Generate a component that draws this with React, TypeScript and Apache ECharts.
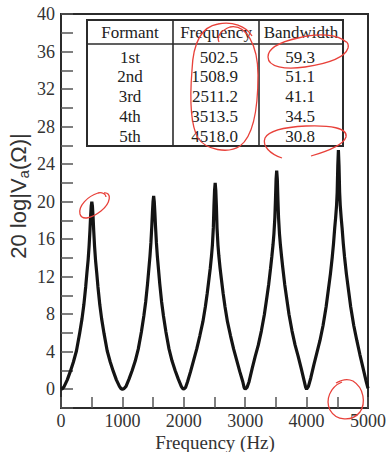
import React, { useEffect, useRef } from 'react';
import * as echarts from 'echarts';

// ---- Data ----
const formantNames = ['1st', '2nd', '3rd', '4th', '5th'];
const formantFrequencies = ['502.5', '1508.9', '2511.2', '3513.5', '4518.0'];
const formantBandwidths = ['59.3', '51.1', '41.1', '34.5', '30.8'];
const tableHeaders = ['Formant', 'Frequency', 'Bandwidth'];
const xAxisTitle = 'Frequency (Hz)';

const xTickValues = [0, 500, 1000, 1500, 2000, 2500, 3000, 3500, 4000, 4500, 5000];
const yLabelValues = [0, 4, 8, 12, 16, 20, 24, 28, 32, 36, 40];

// [frequency Hz, 20 log|Va| dB]
const lobe1: [number, number][] = [
  [0, 0], [26, 0.08], [52, 0.3], [102, 1.0], [152, 1.9], [202, 2.9], [252, 4.1], [302, 5.9], [342, 7.5],
  [372, 9.0], [402, 10.9], [422, 12.4], [442, 13.8], [457, 15.2], [472, 17.0], [482, 18.4],
  [492, 19.5], [502, 20.0], [512, 19.5], [522, 18.4], [532, 17.0], [547, 15.2], [562, 13.8],
  [582, 12.4], [602, 10.9], [632, 9.0], [662, 7.5], [702, 5.9], [752, 4.1], [802, 2.9],
  [852, 1.9], [902, 1.0], [952, 0.3], [976, 0.08],
];
const lobe2: [number, number][] = [
  [1000, 0], [1028, 0.08], [1059, 0.3], [1109, 1.1], [1159, 2.0], [1209, 3.0], [1259, 4.3], [1309, 6.1],
  [1349, 7.8], [1379, 9.3], [1409, 11.2], [1429, 12.7], [1449, 14.2], [1464, 15.6], [1479, 17.4],
  [1489, 18.8], [1499, 20.0], [1509, 20.6], [1519, 20.0], [1529, 18.8], [1539, 17.4], [1554, 15.6],
  [1569, 14.2], [1589, 12.7], [1609, 11.2], [1639, 9.3], [1669, 7.8], [1709, 6.1], [1759, 4.3],
  [1809, 3.0], [1859, 2.0], [1909, 1.1], [1959, 0.3], [1980, 0.08],
];
const lobe3: [number, number][] = [
  [2000, 0], [2030, 0.2], [2061, 0.8], [2111, 1.9], [2161, 3.1], [2211, 4.3], [2261, 5.7],
  [2311, 7.2], [2351, 8.8], [2381, 10.2], [2411, 11.8], [2431, 12.9], [2451, 14.2], [2466, 15.4],
  [2481, 17.2], [2491, 19.5], [2501, 21.2], [2511, 22.0], [2521, 21.2], [2531, 19.5], [2541, 17.2],
  [2556, 15.4], [2571, 14.2], [2591, 12.9], [2611, 11.8], [2641, 10.2], [2671, 8.8], [2711, 7.2],
  [2761, 5.7], [2811, 4.3], [2861, 3.1], [2911, 1.9], [2961, 0.8], [2982, 0.2],
];
const lobe4: [number, number][] = [
  [3000, 0], [3030, 0.2], [3063, 0.8], [3113, 2.2], [3163, 3.5], [3213, 4.7], [3263, 6.2],
  [3313, 8.0], [3353, 9.8], [3383, 11.2], [3413, 12.9], [3433, 14.1], [3453, 15.4], [3468, 16.6],
  [3483, 18.3], [3493, 20.2], [3503, 22.4], [3513, 23.3], [3523, 22.4], [3533, 20.2], [3543, 18.3],
  [3558, 16.6], [3573, 15.4], [3593, 14.1], [3613, 12.9], [3643, 11.2], [3673, 9.8], [3713, 8.0],
  [3763, 6.2], [3813, 4.7], [3863, 3.5], [3913, 2.2], [3963, 0.8], [3985, 0.2],
];
const lobe5: [number, number][] = [
  [4000, 0], [4030, 0.3], [4068, 1.2], [4118, 2.6], [4168, 3.9], [4218, 5.2], [4268, 6.8],
  [4318, 8.8], [4358, 10.8], [4388, 12.3], [4418, 14.1], [4438, 15.5], [4458, 17.2], [4473, 18.3],
  [4488, 19.6], [4498, 21.0], [4508, 23.8], [4518, 25.5], [4528, 23.8], [4538, 21.0], [4548, 19.6],
  [4563, 18.3], [4578, 17.2], [4598, 15.5], [4618, 14.1], [4648, 12.3], [4678, 10.8], [4718, 8.8],
  [4768, 6.8], [4818, 5.2], [4868, 3.7], [4918, 2.3], [4968, 0.9], [5000, 0.1],
];

// hand-drawn red annotation strokes
const redMarksPath =
  'M 219 42 C 216 36 222 30 230 27 C 246 24 258 45 258 75 C 258 105 255 135 240 146 ' +
  'C 228 154 206 150 198 138 C 190 124 190 95 192 70 C 193 45 200 27 218 24 C 232 21 246 26 252 36 ' +
  'M 346 42 C 338 34 318 33 298 38 C 280 42 268 48 268 57 C 268 67 285 70 305 67 ' +
  'C 325 64 345 58 348 48 C 349 44 347 42 345 41 ' +
  'M 311 156 C 325 152 343 146 346 137 C 348 128 330 125 306 126 C 286 127 269 130 265 138 ' +
  'C 262 146 270 154 282 158 ' +
  'M 104 193 C 112 192 111 203 101 211 C 92 218 82 221 80 214 C 78 206 88 196 98 193 C 102 192 106 194 106 197 ' +
  'M 342 382 C 330 387 325 400 330 410 C 336 421 352 422 360 412 C 366 403 364 388 353 381 C 347 378 341 380 336 383';

let registered = false;
function ensureShapes() {
  if (registered) return;
  echarts.graphic.registerShape('redMarks', echarts.graphic.extendPath(redMarksPath, {}) as any);
  registered = true;
}

const SERIF = 'Liberation Serif';
const SANS = 'Liberation Sans';
const INK = '#2b2b2b';

function buildTable(): any[] {
  const left = 87, top = 20, width = 256, height = 126;
  const headerY = 44;
  const col1 = 173, col2 = 259;
  const els: any[] = [
    { type: 'rect', shape: { x: left, y: top, width, height }, style: { fill: '#fff', stroke: INK, lineWidth: 2 }, z: 10 },
    { type: 'line', shape: { x1: left, y1: headerY, x2: left + width, y2: headerY }, style: { stroke: INK, lineWidth: 1.6 }, z: 11 },
    { type: 'line', shape: { x1: col1, y1: top, x2: col1, y2: top + height }, style: { stroke: INK, lineWidth: 1.6 }, z: 11 },
    { type: 'line', shape: { x1: col2, y1: top, x2: col2, y2: top + height }, style: { stroke: INK, lineWidth: 1.6 }, z: 11 },
  ];
  const font = { fontFamily: SERIF, fontSize: 17, fill: '#222' };
  const headerX = [130, 216, 301];
  tableHeaders.forEach((h, i) => {
    els.push({ type: 'text', x: headerX[i], y: 32.5, z: 12, style: { ...font, text: h, align: 'center', verticalAlign: 'middle' } });
  });
  formantNames.forEach((n, i) => {
    const y = 57 + i * 19.8;
    els.push({ type: 'text', x: 130, y, z: 12, style: { ...font, text: n, align: 'center', verticalAlign: 'middle' } });
    els.push({ type: 'text', x: 238, y, z: 12, style: { ...font, text: formantFrequencies[i], align: 'right', verticalAlign: 'middle' } });
    els.push({ type: 'text', x: 300, y, z: 12, style: { ...font, text: formantBandwidths[i], align: 'center', verticalAlign: 'middle' } });
  });
  return els;
}

export default function App() {
  const ref = useRef<HTMLDivElement>(null);
  useEffect(() => {
    if (!ref.current) return;
    ensureShapes();
    const chart = echarts.init(ref.current, undefined, { renderer: 'svg' });
    const curve = [...lobe1, ...lobe2, ...lobe3, ...lobe4, ...lobe5];
    chart.setOption({
      animation: false,
      backgroundColor: '#ffffff',
      grid: {
        left: 61, right: 20, top: 14, bottom: 44, show: true, borderColor: INK, borderWidth: 2,
        backgroundColor: 'transparent', containLabel: false, outerBoundsMode: 'none',
      },
      xAxis: {
        type: 'value', min: 0, max: 5000, interval: 1000,
        axisLine: { show: true, onZero: false, lineStyle: { color: INK, width: 2 } },
        axisTick: { show: true, inside: true, length: 11, customValues: xTickValues, lineStyle: { color: '#555', width: 1.5 } },
        axisLabel: { fontFamily: SERIF, fontSize: 18, color: '#333', margin: 4, formatter: (v: number) => String(v) },
        splitLine: { show: false },
      },
      yAxis: {
        type: 'value', min: -2, max: 40, interval: 2,
        axisLine: { show: true, onZero: false, lineStyle: { color: INK, width: 2 } },
        axisTick: { show: true, inside: true, length: 12, lineStyle: { color: '#555', width: 1.5 } },
        axisLabel: { fontFamily: SERIF, fontSize: 18, color: '#333', margin: 6, customValues: yLabelValues, formatter: (v: number) => String(v) },
        splitLine: { show: false },
      },
      graphic: [
        {
          type: 'text', x: 18, y: 196, rotation: Math.PI / 2, z: 5,
          style: {
            text: '20 log|V{s|a}(Ω)|',
            fontFamily: SANS, fontSize: 22, fill: '#333', lineHeight: 26,
            align: 'center', verticalAlign: 'middle',
            rich: { s: { fontFamily: SANS, fontSize: 15, lineHeight: 13, verticalAlign: 'bottom', fill: '#333' } },
          },
        },
        {
          type: 'text', x: 215, y: 442, z: 5,
          style: { text: xAxisTitle, fontFamily: SERIF, fontSize: 19, fill: '#333', align: 'center', verticalAlign: 'middle' },
        },
        ...buildTable(),
        { type: 'redMarks', x: 0, y: 0, z: 20, style: { stroke: '#e8413a', fill: 'none', lineWidth: 1.3 } },
      ],
      series: [
        {
          type: 'line', data: curve, showSymbol: false, symbol: 'none',
          lineStyle: { color: '#141414', width: 3.2 }, silent: true, z: 3,
        },
      ],
    });
    return () => chart.dispose();
  }, []);
  return <div ref={ref} style={{ position: 'fixed', left: 0, top: 0, width: 388, height: 452 }} />;
}
